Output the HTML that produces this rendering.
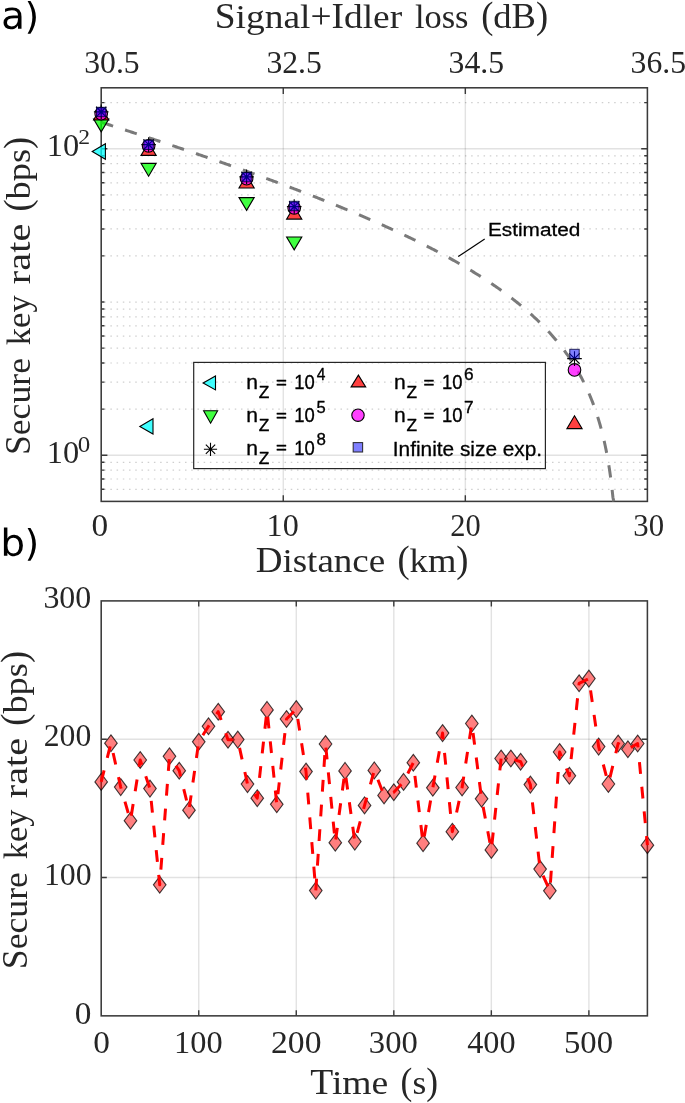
<!DOCTYPE html>
<html><head><meta charset="utf-8"><style>html,body{margin:0;padding:0;background:#fff;overflow:hidden}svg{display:block}</style></head>
<body>
<svg width="685" height="1103" viewBox="0 0 685 1103">
<rect width="685" height="1103" fill="#fff"/>
<line x1="104.15" y1="489.28" x2="646.4" y2="489.28" stroke="#cfcfcf" stroke-width="1.2" stroke-dasharray="1.5 4.72"/>
<line x1="104.15" y1="479.02" x2="646.4" y2="479.02" stroke="#cfcfcf" stroke-width="1.2" stroke-dasharray="1.5 4.72"/>
<line x1="104.15" y1="470.13" x2="646.4" y2="470.13" stroke="#cfcfcf" stroke-width="1.2" stroke-dasharray="1.5 4.72"/>
<line x1="104.15" y1="462.29" x2="646.4" y2="462.29" stroke="#cfcfcf" stroke-width="1.2" stroke-dasharray="1.5 4.72"/>
<line x1="104.15" y1="409.15" x2="646.4" y2="409.15" stroke="#cfcfcf" stroke-width="1.2" stroke-dasharray="1.5 4.72"/>
<line x1="104.15" y1="382.17" x2="646.4" y2="382.17" stroke="#cfcfcf" stroke-width="1.2" stroke-dasharray="1.5 4.72"/>
<line x1="104.15" y1="363.02" x2="646.4" y2="363.02" stroke="#cfcfcf" stroke-width="1.2" stroke-dasharray="1.5 4.72"/>
<line x1="104.15" y1="348.17" x2="646.4" y2="348.17" stroke="#cfcfcf" stroke-width="1.2" stroke-dasharray="1.5 4.72"/>
<line x1="104.15" y1="336.04" x2="646.4" y2="336.04" stroke="#cfcfcf" stroke-width="1.2" stroke-dasharray="1.5 4.72"/>
<line x1="104.15" y1="325.78" x2="646.4" y2="325.78" stroke="#cfcfcf" stroke-width="1.2" stroke-dasharray="1.5 4.72"/>
<line x1="104.15" y1="316.89" x2="646.4" y2="316.89" stroke="#cfcfcf" stroke-width="1.2" stroke-dasharray="1.5 4.72"/>
<line x1="104.15" y1="309.05" x2="646.4" y2="309.05" stroke="#cfcfcf" stroke-width="1.2" stroke-dasharray="1.5 4.72"/>
<line x1="104.15" y1="302.04" x2="646.4" y2="302.04" stroke="#cfcfcf" stroke-width="1.2" stroke-dasharray="1.5 4.72"/>
<line x1="104.15" y1="255.91" x2="646.4" y2="255.91" stroke="#cfcfcf" stroke-width="1.2" stroke-dasharray="1.5 4.72"/>
<line x1="104.15" y1="228.93" x2="646.4" y2="228.93" stroke="#cfcfcf" stroke-width="1.2" stroke-dasharray="1.5 4.72"/>
<line x1="104.15" y1="209.78" x2="646.4" y2="209.78" stroke="#cfcfcf" stroke-width="1.2" stroke-dasharray="1.5 4.72"/>
<line x1="104.15" y1="194.93" x2="646.4" y2="194.93" stroke="#cfcfcf" stroke-width="1.2" stroke-dasharray="1.5 4.72"/>
<line x1="104.15" y1="182.80" x2="646.4" y2="182.80" stroke="#cfcfcf" stroke-width="1.2" stroke-dasharray="1.5 4.72"/>
<line x1="104.15" y1="172.54" x2="646.4" y2="172.54" stroke="#cfcfcf" stroke-width="1.2" stroke-dasharray="1.5 4.72"/>
<line x1="104.15" y1="163.65" x2="646.4" y2="163.65" stroke="#cfcfcf" stroke-width="1.2" stroke-dasharray="1.5 4.72"/>
<line x1="104.15" y1="155.81" x2="646.4" y2="155.81" stroke="#cfcfcf" stroke-width="1.2" stroke-dasharray="1.5 4.72"/>
<line x1="104.15" y1="102.67" x2="646.4" y2="102.67" stroke="#cfcfcf" stroke-width="1.2" stroke-dasharray="1.5 4.72"/>
<line x1="101.2" y1="455.28" x2="647.4" y2="455.28" stroke="rgba(38,38,38,0.135)" stroke-width="1.4"/>
<line x1="101.2" y1="148.80" x2="647.4" y2="148.80" stroke="rgba(38,38,38,0.135)" stroke-width="1.4"/>
<line x1="283.27" y1="87.8" x2="283.27" y2="501.4" stroke="rgba(38,38,38,0.135)" stroke-width="1.4"/>
<line x1="465.33" y1="87.8" x2="465.33" y2="501.4" stroke="rgba(38,38,38,0.135)" stroke-width="1.4"/>
<rect x="101.20" y="87.80" width="546.20" height="413.60" fill="none" stroke="#3a3a3a" stroke-width="1.55"/>
<path d="M283.27,501.40 v-6.2 M283.27,87.80 v6.2 M465.33,501.40 v-6.2 M465.33,87.80 v6.2 M101.20,455.28 h6.2 M647.40,455.28 h-6.2 M101.20,148.80 h6.2 M647.40,148.80 h-6.2 M101.20,489.28 h3.2 M647.40,489.28 h-3.2 M101.20,479.02 h3.2 M647.40,479.02 h-3.2 M101.20,470.13 h3.2 M647.40,470.13 h-3.2 M101.20,462.29 h3.2 M647.40,462.29 h-3.2 M101.20,409.15 h3.2 M647.40,409.15 h-3.2 M101.20,382.17 h3.2 M647.40,382.17 h-3.2 M101.20,363.02 h3.2 M647.40,363.02 h-3.2 M101.20,348.17 h3.2 M647.40,348.17 h-3.2 M101.20,336.04 h3.2 M647.40,336.04 h-3.2 M101.20,325.78 h3.2 M647.40,325.78 h-3.2 M101.20,316.89 h3.2 M647.40,316.89 h-3.2 M101.20,309.05 h3.2 M647.40,309.05 h-3.2 M101.20,302.04 h3.2 M647.40,302.04 h-3.2 M101.20,255.91 h3.2 M647.40,255.91 h-3.2 M101.20,228.93 h3.2 M647.40,228.93 h-3.2 M101.20,209.78 h3.2 M647.40,209.78 h-3.2 M101.20,194.93 h3.2 M647.40,194.93 h-3.2 M101.20,182.80 h3.2 M647.40,182.80 h-3.2 M101.20,172.54 h3.2 M647.40,172.54 h-3.2 M101.20,163.65 h3.2 M647.40,163.65 h-3.2 M101.20,155.81 h3.2 M647.40,155.81 h-3.2 M101.20,102.67 h3.2 M647.40,102.67 h-3.2" stroke="#3a3a3a" stroke-width="1.4" fill="none"/>
<path d="M101.20,122.26 L102.06,122.53 L102.91,122.81 L103.77,123.09 L104.63,123.36 L105.49,123.64 L106.34,123.91 L107.20,124.19 L108.06,124.46 L108.91,124.74 L109.77,125.02 L110.63,125.29 L111.49,125.57 L112.34,125.85 L113.20,126.12 L114.06,126.40 L114.91,126.68 L115.77,126.96 L116.63,127.23 L117.49,127.51 L118.34,127.79 L119.20,128.07 L120.06,128.34 L120.91,128.62 L121.77,128.90 L122.63,129.18 L123.49,129.46 L124.34,129.74 L125.20,130.01 L126.06,130.29 L126.91,130.57 L127.77,130.85 L128.63,131.13 L129.49,131.41 L130.34,131.69 L131.20,131.97 L132.06,132.25 L132.91,132.53 L133.77,132.81 L134.63,133.09 L135.49,133.37 L136.34,133.65 L137.20,133.93 L138.06,134.21 L138.91,134.49 L139.77,134.77 L140.63,135.06 L141.49,135.34 L142.34,135.62 L143.20,135.90 L144.06,136.18 L144.91,136.46 L145.77,136.75 L146.63,137.03 L147.49,137.31 L148.34,137.59 L149.20,137.88 L150.06,138.16 L150.91,138.44 L151.77,138.73 L152.63,139.01 L153.49,139.29 L154.34,139.58 L155.20,139.86 L156.06,140.15 L156.91,140.43 L157.77,140.71 L158.63,141.00 L159.49,141.28 L160.34,141.57 L161.20,141.85 L162.06,142.14 L162.91,142.43 L163.77,142.71 L164.63,143.00 L165.49,143.28 L166.34,143.57 L167.20,143.86 L168.06,144.14 L168.91,144.43 L169.77,144.72 L170.63,145.00 L171.49,145.29 L172.34,145.58 L173.20,145.86 L174.06,146.15 L174.91,146.44 L175.77,146.73 L176.63,147.02 L177.49,147.31 L178.34,147.59 L179.20,147.88 L180.06,148.17 L180.91,148.46 L181.77,148.75 L182.63,149.04 L183.49,149.33 L184.34,149.62 L185.20,149.91 L186.06,150.20 L186.91,150.49 L187.77,150.78 L188.63,151.07 L189.49,151.37 L190.34,151.66 L191.20,151.95 L192.06,152.24 L192.91,152.53 L193.77,152.82 L194.63,153.12 L195.49,153.41 L196.34,153.70 L197.20,154.00 L198.06,154.29 L198.91,154.58 L199.77,154.88 L200.63,155.17 L201.49,155.46 L202.34,155.76 L203.20,156.05 L204.06,156.35 L204.91,156.64 L205.77,156.94 L206.63,157.23 L207.49,157.53 L208.34,157.82 L209.20,158.12 L210.06,158.42 L210.91,158.71 L211.77,159.01 L212.63,159.31 L213.49,159.60 L214.34,159.90 L215.20,160.20 L216.06,160.50 L216.91,160.80 L217.77,161.09 L218.63,161.39 L219.49,161.69 L220.34,161.99 L221.20,162.29 L222.06,162.59 L222.91,162.89 L223.77,163.19 L224.63,163.49 L225.49,163.79 L226.34,164.09 L227.20,164.39 L228.06,164.69 L228.91,165.00 L229.77,165.30 L230.63,165.60 L231.49,165.90 L232.34,166.20 L233.20,166.51 L234.06,166.81 L234.91,167.11 L235.77,167.42 L236.63,167.72 L237.49,168.03 L238.34,168.33 L239.20,168.64 L240.06,168.94 L240.91,169.25 L241.77,169.55 L242.63,169.86 L243.49,170.16 L244.34,170.47 L245.20,170.78 L246.06,171.08 L246.91,171.39 L247.77,171.70 L248.63,172.01 L249.49,172.31 L250.34,172.62 L251.20,172.93 L252.06,173.24 L252.91,173.55 L253.77,173.86 L254.63,174.17 L255.49,174.48 L256.34,174.79 L257.20,175.10 L258.06,175.41 L258.91,175.72 L259.77,176.03 L260.63,176.35 L261.49,176.66 L262.34,176.97 L263.20,177.28 L264.06,177.60 L264.91,177.91 L265.77,178.22 L266.63,178.54 L267.49,178.85 L268.34,179.17 L269.20,179.48 L270.06,179.80 L270.91,180.11 L271.77,180.43 L272.63,180.75 L273.49,181.06 L274.34,181.38 L275.20,181.70 L276.06,182.02 L276.91,182.34 L277.77,182.65 L278.63,182.97 L279.49,183.29 L280.34,183.61 L281.20,183.93 L282.06,184.25 L282.91,184.57 L283.77,184.89 L284.63,185.22 L285.49,185.54 L286.34,185.86 L287.20,186.18 L288.06,186.50 L288.91,186.83 L289.77,187.15 L290.63,187.48 L291.49,187.80 L292.34,188.12 L293.20,188.45 L294.06,188.78 L294.91,189.10 L295.77,189.43 L296.63,189.75 L297.49,190.08 L298.34,190.41 L299.20,190.74 L300.06,191.07 L300.91,191.39 L301.77,191.72 L302.63,192.05 L303.49,192.38 L304.34,192.71 L305.20,193.05 L306.06,193.38 L306.91,193.71 L307.77,194.04 L308.63,194.37 L309.49,194.71 L310.34,195.04 L311.20,195.37 L312.06,195.71 L312.91,196.04 L313.77,196.38 L314.63,196.71 L315.49,197.05 L316.34,197.39 L317.20,197.72 L318.06,198.06 L318.91,198.40 L319.77,198.74 L320.63,199.08 L321.49,199.42 L322.34,199.76 L323.20,200.10 L324.06,200.44 L324.91,200.78 L325.77,201.12 L326.63,201.46 L327.49,201.81 L328.34,202.15 L329.20,202.49 L330.06,202.84 L330.91,203.18 L331.77,203.53 L332.63,203.87 L333.49,204.22 L334.34,204.57 L335.20,204.91 L336.06,205.26 L336.91,205.61 L337.77,205.96 L338.63,206.31 L339.49,206.66 L340.34,207.01 L341.20,207.36 L342.06,207.71 L342.91,208.07 L343.77,208.42 L344.63,208.77 L345.49,209.13 L346.34,209.48 L347.20,209.84 L348.06,210.19 L348.91,210.55 L349.77,210.91 L350.63,211.27 L351.49,211.62 L352.34,211.98 L353.20,212.34 L354.06,212.70 L354.91,213.06 L355.77,213.42 L356.63,213.79 L357.49,214.15 L358.34,214.51 L359.20,214.88 L360.06,215.24 L360.91,215.61 L361.77,215.97 L362.63,216.34 L363.49,216.71 L364.34,217.07 L365.20,217.44 L366.06,217.81 L366.91,218.18 L367.77,218.55 L368.63,218.92 L369.49,219.30 L370.34,219.67 L371.20,220.04 L372.06,220.42 L372.91,220.79 L373.77,221.17 L374.63,221.54 L375.49,221.92 L376.34,222.30 L377.20,222.68 L378.06,223.06 L378.91,223.44 L379.77,223.82 L380.63,224.20 L381.49,224.58 L382.34,224.97 L383.20,225.35 L384.06,225.73 L384.91,226.12 L385.77,226.51 L386.63,226.89 L387.49,227.28 L388.34,227.67 L389.20,228.06 L390.06,228.45 L390.91,228.84 L391.77,229.24 L392.63,229.63 L393.49,230.02 L394.34,230.42 L395.20,230.81 L396.06,231.21 L396.91,231.61 L397.77,232.01 L398.63,232.41 L399.49,232.81 L400.34,233.21 L401.20,233.61 L402.06,234.01 L402.91,234.42 L403.77,234.82 L404.63,235.23 L405.49,235.64 L406.34,236.05 L407.20,236.46 L408.06,236.87 L408.91,237.28 L409.77,237.69 L410.63,238.10 L411.49,238.52 L412.34,238.93 L413.20,239.35 L414.06,239.77 L414.91,240.18 L415.77,240.60 L416.63,241.03 L417.49,241.45 L418.34,241.87 L419.20,242.29 L420.06,242.72 L420.91,243.15 L421.77,243.57 L422.63,244.00 L423.49,244.43 L424.34,244.86 L425.20,245.30 L426.06,245.73 L426.91,246.16 L427.77,246.60 L428.63,247.04 L429.49,247.48 L430.34,247.92 L431.20,248.36 L432.06,248.80 L432.91,249.24 L433.77,249.69 L434.63,250.14 L435.49,250.58 L436.34,251.03 L437.20,251.48 L438.06,251.94 L438.91,252.39 L439.77,252.84 L440.63,253.30 L441.49,253.76 L442.34,254.22 L443.20,254.68 L444.06,255.14 L444.91,255.60 L445.77,256.07 L446.63,256.54 L447.49,257.00 L448.34,257.47 L449.20,257.94 L450.06,258.42 L450.91,258.89 L451.77,259.37 L452.63,259.85 L453.49,260.33 L454.34,260.81 L455.20,261.29 L456.06,261.78 L456.91,262.26 L457.77,262.75 L458.63,263.24 L459.49,263.73 L460.34,264.23 L461.20,264.72 L462.06,265.22 L462.91,265.72 L463.77,266.22 L464.63,266.72 L465.49,267.23 L466.34,267.74 L467.20,268.24 L468.06,268.76 L468.91,269.27 L469.77,269.78 L470.63,270.30 L471.49,270.82 L472.34,271.34 L473.20,271.87 L474.06,272.39 L474.91,272.92 L475.77,273.45 L476.63,273.99 L477.49,274.52 L478.34,275.06 L479.20,275.60 L480.06,276.14 L480.91,276.68 L481.77,277.23 L482.63,277.78 L483.49,278.33 L484.34,278.89 L485.20,279.45 L486.06,280.01 L486.91,280.57 L487.77,281.13 L488.63,281.70 L489.49,282.27 L490.34,282.85 L491.20,283.42 L492.06,284.00 L492.91,284.58 L493.77,285.17 L494.63,285.76 L495.49,286.35 L496.34,286.94 L497.20,287.54 L498.06,288.14 L498.91,288.75 L499.77,289.35 L500.63,289.96 L501.49,290.58 L502.34,291.20 L503.20,291.82 L504.06,292.44 L504.91,293.07 L505.77,293.70 L506.63,294.34 L507.49,294.97 L508.34,295.62 L509.20,296.26 L510.06,296.91 L510.91,297.57 L511.77,298.23 L512.63,298.89 L513.49,299.56 L514.34,300.23 L515.20,300.90 L516.06,301.58 L516.91,302.27 L517.77,302.96 L518.63,303.65 L519.49,304.35 L520.34,305.05 L521.20,305.76 L522.06,306.47 L522.91,307.19 L523.77,307.92 L524.63,308.64 L525.49,309.38 L526.34,310.12 L527.20,310.86 L528.06,311.61 L528.91,312.37 L529.77,313.13 L530.63,313.90 L531.49,314.67 L532.34,315.45 L533.20,316.24 L534.06,317.03 L534.91,317.83 L535.77,318.64 L536.63,319.45 L537.49,320.27 L538.34,321.10 L539.20,321.93 L540.06,322.77 L540.91,323.62 L541.77,324.48 L542.63,325.35 L543.49,326.22 L544.34,327.10 L545.20,327.99 L546.06,328.89 L546.91,329.80 L547.77,330.72 L548.63,331.65 L549.49,332.58 L550.34,333.53 L551.20,334.48 L552.06,335.45 L552.91,336.43 L553.77,337.42 L554.63,338.41 L555.49,339.43 L556.34,340.45 L557.20,341.48 L558.06,342.53 L558.91,343.59 L559.77,344.66 L560.63,345.75 L561.49,346.85 L562.34,347.96 L563.20,349.09 L564.06,350.24 L564.91,351.40 L565.77,352.57 L566.63,353.77 L567.49,354.98 L568.34,356.21 L569.20,357.45 L570.06,358.72 L570.91,360.01 L571.77,361.31 L572.63,362.64 L573.49,363.99 L574.34,365.36 L575.20,366.76 L576.06,368.18 L576.91,369.62 L577.77,371.10 L578.63,372.60 L579.49,374.13 L580.34,375.68 L581.20,377.28 L582.06,378.90 L582.91,380.56 L583.77,382.25 L584.63,383.98 L585.49,385.75 L586.34,387.57 L587.20,389.43 L588.06,391.33 L588.91,393.28 L589.77,395.28 L590.63,397.34 L591.49,399.46 L592.34,401.63 L593.20,403.88 L594.06,406.19 L594.91,408.57 L595.77,411.04 L596.63,413.59 L597.49,416.23 L598.34,418.97 L599.20,421.82 L600.06,424.78 L600.91,427.87 L601.77,431.10 L602.63,434.48 L603.49,438.03 L604.34,441.76 L605.20,445.70 L606.06,449.88 L606.91,454.31 L607.77,459.04 L608.63,464.12 L609.49,469.60 L610.34,475.54 L611.20,482.04 L612.06,489.22 L612.91,497.23 L613.77,501.40" fill="none" stroke="#7a7a7a" stroke-width="3" stroke-dasharray="12.3 12.586" stroke-dashoffset="-0.2"/>
<polygon points="105.40,143.80 105.40,159.20 92.20,151.50" fill="rgba(0,255,255,0.75)" stroke="#000" stroke-width="1.1"/>
<polygon points="153.00,418.70 153.00,434.10 139.80,426.40" fill="rgba(0,255,255,0.75)" stroke="#000" stroke-width="1.1"/>
<polygon points="93.60,119.10 108.80,119.10 101.20,131.90" fill="rgba(0,255,0,0.75)" stroke="#000" stroke-width="1.1"/>
<polygon points="141.00,163.40 156.20,163.40 148.60,176.20" fill="rgba(0,255,0,0.75)" stroke="#000" stroke-width="1.1"/>
<polygon points="239.00,197.60 254.20,197.60 246.60,210.40" fill="rgba(0,255,0,0.75)" stroke="#000" stroke-width="1.1"/>
<polygon points="286.60,237.00 301.80,237.00 294.20,249.80" fill="rgba(0,255,0,0.75)" stroke="#000" stroke-width="1.1"/>
<polygon points="93.60,120.00 108.80,120.00 101.20,107.20" fill="rgba(255,0,0,0.75)" stroke="#000" stroke-width="1.1" stroke-linejoin="miter"/>
<polygon points="141.00,155.40 156.20,155.40 148.60,142.60" fill="rgba(255,0,0,0.75)" stroke="#000" stroke-width="1.1" stroke-linejoin="miter"/>
<polygon points="239.00,188.00 254.20,188.00 246.60,175.20" fill="rgba(255,0,0,0.75)" stroke="#000" stroke-width="1.1" stroke-linejoin="miter"/>
<polygon points="286.60,219.10 301.80,219.10 294.20,206.30" fill="rgba(255,0,0,0.75)" stroke="#000" stroke-width="1.1" stroke-linejoin="miter"/>
<polygon points="566.90,428.60 582.10,428.60 574.50,415.80" fill="rgba(255,0,0,0.75)" stroke="#000" stroke-width="1.1" stroke-linejoin="miter"/>
<circle cx="101.20" cy="113.70" r="6.3" fill="rgba(255,0,255,0.75)" stroke="#000" stroke-width="1.1"/>
<circle cx="148.60" cy="145.90" r="6.3" fill="rgba(255,0,255,0.75)" stroke="#000" stroke-width="1.1"/>
<circle cx="246.60" cy="178.70" r="6.3" fill="rgba(255,0,255,0.75)" stroke="#000" stroke-width="1.1"/>
<circle cx="294.20" cy="208.00" r="6.3" fill="rgba(255,0,255,0.75)" stroke="#000" stroke-width="1.1"/>
<circle cx="574.50" cy="369.90" r="6.3" fill="rgba(255,0,255,0.75)" stroke="#000" stroke-width="1.1"/>
<path d="M93.90,111.90 L108.50,111.90 M96.04,106.74 L106.36,117.06 M101.20,104.60 L101.20,119.20 M106.36,106.74 L96.04,117.06" stroke="#000" stroke-width="1.1" fill="none"/>
<path d="M141.30,144.60 L155.90,144.60 M143.44,139.44 L153.76,149.76 M148.60,137.30 L148.60,151.90 M153.76,139.44 L143.44,149.76" stroke="#000" stroke-width="1.1" fill="none"/>
<path d="M239.30,176.90 L253.90,176.90 M241.44,171.74 L251.76,182.06 M246.60,169.60 L246.60,184.20 M251.76,171.74 L241.44,182.06" stroke="#000" stroke-width="1.1" fill="none"/>
<path d="M286.90,206.60 L301.50,206.60 M289.04,201.44 L299.36,211.76 M294.20,199.30 L294.20,213.90 M299.36,201.44 L289.04,211.76" stroke="#000" stroke-width="1.1" fill="none"/>
<path d="M567.20,358.60 L581.80,358.60 M569.34,353.44 L579.66,363.76 M574.50,351.30 L574.50,365.90 M579.66,353.44 L569.34,363.76" stroke="#000" stroke-width="1.1" fill="none"/>
<rect x="96.50" y="107.30" width="9.4" height="9.4" fill="rgba(0,0,255,0.5)" stroke="rgba(0,0,50,0.8)" stroke-width="1"/>
<rect x="143.90" y="140.10" width="9.4" height="9.4" fill="rgba(0,0,255,0.5)" stroke="rgba(0,0,50,0.8)" stroke-width="1"/>
<rect x="241.90" y="172.40" width="9.4" height="9.4" fill="rgba(0,0,255,0.5)" stroke="rgba(0,0,50,0.8)" stroke-width="1"/>
<rect x="289.50" y="201.30" width="9.4" height="9.4" fill="rgba(0,0,255,0.5)" stroke="rgba(0,0,50,0.8)" stroke-width="1"/>
<rect x="569.80" y="349.30" width="9.4" height="9.4" fill="rgba(0,0,255,0.5)" stroke="rgba(0,0,50,0.8)" stroke-width="1"/>
<rect x="193.7" y="362.4" width="351.7" height="106.2" fill="none" stroke="#262626" stroke-width="1.2"/>
<polygon points="215.50,375.90 215.50,389.90 203.10,382.90" fill="rgba(0,255,255,0.75)" stroke="#000" stroke-width="1.1"/>
<polygon points="203.60,410.80 217.60,410.80 210.60,423.20" fill="rgba(0,255,0,0.75)" stroke="#000" stroke-width="1.1"/>
<path d="M203.90,449.30 L217.10,449.30 M205.83,444.63 L215.17,453.97 M210.50,442.70 L210.50,455.90 M215.17,444.63 L205.83,453.97" stroke="#000" stroke-width="1.1" fill="none"/>
<polygon points="351.10,386.90 365.70,386.90 358.40,375.10" fill="rgba(255,0,0,0.75)" stroke="#000" stroke-width="1.1" stroke-linejoin="miter"/>
<circle cx="358.00" cy="415.20" r="6.2" fill="rgba(255,0,255,0.75)" stroke="#000" stroke-width="1.1"/>
<rect x="353.2" y="442.6" width="9.4" height="9.4" fill="rgba(0,0,255,0.5)" stroke="#30303a" stroke-width="1.1"/>
<line x1="458.2" y1="256.6" x2="484.7" y2="239.0" stroke="#000" stroke-width="1.2"/>
<line x1="101.2" y1="877.53" x2="647.4" y2="877.53" stroke="rgba(38,38,38,0.135)" stroke-width="1.4"/>
<line x1="101.2" y1="739.22" x2="647.4" y2="739.22" stroke="rgba(38,38,38,0.135)" stroke-width="1.4"/>
<line x1="198.74" y1="600.9" x2="198.74" y2="1015.9" stroke="rgba(38,38,38,0.135)" stroke-width="1.4"/>
<line x1="296.27" y1="600.9" x2="296.27" y2="1015.9" stroke="rgba(38,38,38,0.135)" stroke-width="1.4"/>
<line x1="393.81" y1="600.9" x2="393.81" y2="1015.9" stroke="rgba(38,38,38,0.135)" stroke-width="1.4"/>
<line x1="491.34" y1="600.9" x2="491.34" y2="1015.9" stroke="rgba(38,38,38,0.135)" stroke-width="1.4"/>
<line x1="588.88" y1="600.9" x2="588.88" y2="1015.9" stroke="rgba(38,38,38,0.135)" stroke-width="1.4"/>
<rect x="101.20" y="600.90" width="546.20" height="414.95" fill="none" stroke="#3a3a3a" stroke-width="1.55"/>
<path d="M198.74,1015.85 v-5.6 M198.74,600.90 v5.6 M296.27,1015.85 v-5.6 M296.27,600.90 v5.6 M393.81,1015.85 v-5.6 M393.81,600.90 v5.6 M491.34,1015.85 v-5.6 M491.34,600.90 v5.6 M588.88,1015.85 v-5.6 M588.88,600.90 v5.6 M101.20,877.53 h5.6 M647.40,877.53 h-5.6 M101.20,739.22 h5.6 M647.40,739.22 h-5.6" stroke="#3a3a3a" stroke-width="1.4" fill="none"/>
<polygon points="101.20,773.50 107.50,781.90 101.20,790.30 94.90,781.90" fill="rgba(255,0,0,0.5)" stroke="rgba(0,0,0,0.75)" stroke-width="1.1"/>
<polygon points="110.95,734.80 117.25,743.20 110.95,751.60 104.65,743.20" fill="rgba(255,0,0,0.5)" stroke="rgba(0,0,0,0.75)" stroke-width="1.1"/>
<polygon points="120.71,778.70 127.01,787.10 120.71,795.50 114.41,787.10" fill="rgba(255,0,0,0.5)" stroke="rgba(0,0,0,0.75)" stroke-width="1.1"/>
<polygon points="130.46,812.30 136.76,820.70 130.46,829.10 124.16,820.70" fill="rgba(255,0,0,0.5)" stroke="rgba(0,0,0,0.75)" stroke-width="1.1"/>
<polygon points="140.21,751.60 146.51,760.00 140.21,768.40 133.91,760.00" fill="rgba(255,0,0,0.5)" stroke="rgba(0,0,0,0.75)" stroke-width="1.1"/>
<polygon points="149.97,780.20 156.27,788.60 149.97,797.00 143.67,788.60" fill="rgba(255,0,0,0.5)" stroke="rgba(0,0,0,0.75)" stroke-width="1.1"/>
<polygon points="159.72,876.40 166.02,884.80 159.72,893.20 153.42,884.80" fill="rgba(255,0,0,0.5)" stroke="rgba(0,0,0,0.75)" stroke-width="1.1"/>
<polygon points="169.47,747.90 175.78,756.30 169.47,764.70 163.17,756.30" fill="rgba(255,0,0,0.5)" stroke="rgba(0,0,0,0.75)" stroke-width="1.1"/>
<polygon points="179.23,762.30 185.53,770.70 179.23,779.10 172.93,770.70" fill="rgba(255,0,0,0.5)" stroke="rgba(0,0,0,0.75)" stroke-width="1.1"/>
<polygon points="188.98,801.80 195.28,810.20 188.98,818.60 182.68,810.20" fill="rgba(255,0,0,0.5)" stroke="rgba(0,0,0,0.75)" stroke-width="1.1"/>
<polygon points="198.74,733.40 205.04,741.80 198.74,750.20 192.44,741.80" fill="rgba(255,0,0,0.5)" stroke="rgba(0,0,0,0.75)" stroke-width="1.1"/>
<polygon points="208.49,717.90 214.79,726.30 208.49,734.70 202.19,726.30" fill="rgba(255,0,0,0.5)" stroke="rgba(0,0,0,0.75)" stroke-width="1.1"/>
<polygon points="218.24,703.30 224.54,711.70 218.24,720.10 211.94,711.70" fill="rgba(255,0,0,0.5)" stroke="rgba(0,0,0,0.75)" stroke-width="1.1"/>
<polygon points="228.00,731.40 234.30,739.80 228.00,748.20 221.70,739.80" fill="rgba(255,0,0,0.5)" stroke="rgba(0,0,0,0.75)" stroke-width="1.1"/>
<polygon points="237.75,731.20 244.05,739.60 237.75,748.00 231.45,739.60" fill="rgba(255,0,0,0.5)" stroke="rgba(0,0,0,0.75)" stroke-width="1.1"/>
<polygon points="247.50,775.70 253.80,784.10 247.50,792.50 241.20,784.10" fill="rgba(255,0,0,0.5)" stroke="rgba(0,0,0,0.75)" stroke-width="1.1"/>
<polygon points="257.26,789.80 263.56,798.20 257.26,806.60 250.96,798.20" fill="rgba(255,0,0,0.5)" stroke="rgba(0,0,0,0.75)" stroke-width="1.1"/>
<polygon points="267.01,701.50 273.31,709.90 267.01,718.30 260.71,709.90" fill="rgba(255,0,0,0.5)" stroke="rgba(0,0,0,0.75)" stroke-width="1.1"/>
<polygon points="276.76,795.90 283.06,804.30 276.76,812.70 270.46,804.30" fill="rgba(255,0,0,0.5)" stroke="rgba(0,0,0,0.75)" stroke-width="1.1"/>
<polygon points="286.52,710.60 292.82,719.00 286.52,727.40 280.22,719.00" fill="rgba(255,0,0,0.5)" stroke="rgba(0,0,0,0.75)" stroke-width="1.1"/>
<polygon points="296.27,700.70 302.57,709.10 296.27,717.50 289.97,709.10" fill="rgba(255,0,0,0.5)" stroke="rgba(0,0,0,0.75)" stroke-width="1.1"/>
<polygon points="306.02,763.20 312.32,771.60 306.02,780.00 299.72,771.60" fill="rgba(255,0,0,0.5)" stroke="rgba(0,0,0,0.75)" stroke-width="1.1"/>
<polygon points="315.78,882.20 322.08,890.60 315.78,899.00 309.48,890.60" fill="rgba(255,0,0,0.5)" stroke="rgba(0,0,0,0.75)" stroke-width="1.1"/>
<polygon points="325.53,735.60 331.83,744.00 325.53,752.40 319.23,744.00" fill="rgba(255,0,0,0.5)" stroke="rgba(0,0,0,0.75)" stroke-width="1.1"/>
<polygon points="335.29,834.30 341.59,842.70 335.29,851.10 328.99,842.70" fill="rgba(255,0,0,0.5)" stroke="rgba(0,0,0,0.75)" stroke-width="1.1"/>
<polygon points="345.04,762.50 351.34,770.90 345.04,779.30 338.74,770.90" fill="rgba(255,0,0,0.5)" stroke="rgba(0,0,0,0.75)" stroke-width="1.1"/>
<polygon points="354.79,833.20 361.09,841.60 354.79,850.00 348.49,841.60" fill="rgba(255,0,0,0.5)" stroke="rgba(0,0,0,0.75)" stroke-width="1.1"/>
<polygon points="364.55,797.00 370.85,805.40 364.55,813.80 358.25,805.40" fill="rgba(255,0,0,0.5)" stroke="rgba(0,0,0,0.75)" stroke-width="1.1"/>
<polygon points="374.30,762.00 380.60,770.40 374.30,778.80 368.00,770.40" fill="rgba(255,0,0,0.5)" stroke="rgba(0,0,0,0.75)" stroke-width="1.1"/>
<polygon points="384.05,787.00 390.35,795.40 384.05,803.80 377.75,795.40" fill="rgba(255,0,0,0.5)" stroke="rgba(0,0,0,0.75)" stroke-width="1.1"/>
<polygon points="393.81,783.80 400.11,792.20 393.81,800.60 387.51,792.20" fill="rgba(255,0,0,0.5)" stroke="rgba(0,0,0,0.75)" stroke-width="1.1"/>
<polygon points="403.56,773.50 409.86,781.90 403.56,790.30 397.26,781.90" fill="rgba(255,0,0,0.5)" stroke="rgba(0,0,0,0.75)" stroke-width="1.1"/>
<polygon points="413.31,754.30 419.61,762.70 413.31,771.10 407.01,762.70" fill="rgba(255,0,0,0.5)" stroke="rgba(0,0,0,0.75)" stroke-width="1.1"/>
<polygon points="423.07,834.80 429.37,843.20 423.07,851.60 416.77,843.20" fill="rgba(255,0,0,0.5)" stroke="rgba(0,0,0,0.75)" stroke-width="1.1"/>
<polygon points="432.82,779.40 439.12,787.80 432.82,796.20 426.52,787.80" fill="rgba(255,0,0,0.5)" stroke="rgba(0,0,0,0.75)" stroke-width="1.1"/>
<polygon points="442.57,724.70 448.87,733.10 442.57,741.50 436.27,733.10" fill="rgba(255,0,0,0.5)" stroke="rgba(0,0,0,0.75)" stroke-width="1.1"/>
<polygon points="452.33,823.30 458.63,831.70 452.33,840.10 446.03,831.70" fill="rgba(255,0,0,0.5)" stroke="rgba(0,0,0,0.75)" stroke-width="1.1"/>
<polygon points="462.08,779.10 468.38,787.50 462.08,795.90 455.78,787.50" fill="rgba(255,0,0,0.5)" stroke="rgba(0,0,0,0.75)" stroke-width="1.1"/>
<polygon points="471.84,715.10 478.14,723.50 471.84,731.90 465.54,723.50" fill="rgba(255,0,0,0.5)" stroke="rgba(0,0,0,0.75)" stroke-width="1.1"/>
<polygon points="481.59,790.40 487.89,798.80 481.59,807.20 475.29,798.80" fill="rgba(255,0,0,0.5)" stroke="rgba(0,0,0,0.75)" stroke-width="1.1"/>
<polygon points="491.34,841.50 497.64,849.90 491.34,858.30 485.04,849.90" fill="rgba(255,0,0,0.5)" stroke="rgba(0,0,0,0.75)" stroke-width="1.1"/>
<polygon points="501.10,750.10 507.40,758.50 501.10,766.90 494.80,758.50" fill="rgba(255,0,0,0.5)" stroke="rgba(0,0,0,0.75)" stroke-width="1.1"/>
<polygon points="510.85,750.10 517.15,758.50 510.85,766.90 504.55,758.50" fill="rgba(255,0,0,0.5)" stroke="rgba(0,0,0,0.75)" stroke-width="1.1"/>
<polygon points="520.60,753.30 526.90,761.70 520.60,770.10 514.30,761.70" fill="rgba(255,0,0,0.5)" stroke="rgba(0,0,0,0.75)" stroke-width="1.1"/>
<polygon points="530.36,776.20 536.66,784.60 530.36,793.00 524.06,784.60" fill="rgba(255,0,0,0.5)" stroke="rgba(0,0,0,0.75)" stroke-width="1.1"/>
<polygon points="540.11,860.70 546.41,869.10 540.11,877.50 533.81,869.10" fill="rgba(255,0,0,0.5)" stroke="rgba(0,0,0,0.75)" stroke-width="1.1"/>
<polygon points="549.86,882.40 556.16,890.80 549.86,899.20 543.56,890.80" fill="rgba(255,0,0,0.5)" stroke="rgba(0,0,0,0.75)" stroke-width="1.1"/>
<polygon points="559.62,743.60 565.92,752.00 559.62,760.40 553.32,752.00" fill="rgba(255,0,0,0.5)" stroke="rgba(0,0,0,0.75)" stroke-width="1.1"/>
<polygon points="569.37,767.40 575.67,775.80 569.37,784.20 563.07,775.80" fill="rgba(255,0,0,0.5)" stroke="rgba(0,0,0,0.75)" stroke-width="1.1"/>
<polygon points="579.12,674.90 585.42,683.30 579.12,691.70 572.82,683.30" fill="rgba(255,0,0,0.5)" stroke="rgba(0,0,0,0.75)" stroke-width="1.1"/>
<polygon points="588.88,670.20 595.18,678.60 588.88,687.00 582.58,678.60" fill="rgba(255,0,0,0.5)" stroke="rgba(0,0,0,0.75)" stroke-width="1.1"/>
<polygon points="598.63,738.20 604.93,746.60 598.63,755.00 592.33,746.60" fill="rgba(255,0,0,0.5)" stroke="rgba(0,0,0,0.75)" stroke-width="1.1"/>
<polygon points="608.39,775.60 614.69,784.00 608.39,792.40 602.09,784.00" fill="rgba(255,0,0,0.5)" stroke="rgba(0,0,0,0.75)" stroke-width="1.1"/>
<polygon points="618.14,735.10 624.44,743.50 618.14,751.90 611.84,743.50" fill="rgba(255,0,0,0.5)" stroke="rgba(0,0,0,0.75)" stroke-width="1.1"/>
<polygon points="627.89,740.90 634.19,749.30 627.89,757.70 621.59,749.30" fill="rgba(255,0,0,0.5)" stroke="rgba(0,0,0,0.75)" stroke-width="1.1"/>
<polygon points="637.65,735.10 643.95,743.50 637.65,751.90 631.35,743.50" fill="rgba(255,0,0,0.5)" stroke="rgba(0,0,0,0.75)" stroke-width="1.1"/>
<polygon points="647.40,836.80 653.70,845.20 647.40,853.60 641.10,845.20" fill="rgba(255,0,0,0.5)" stroke="rgba(0,0,0,0.75)" stroke-width="1.1"/>
<path d="M101.20,781.90 L110.95,743.20 L120.71,787.10 L130.46,820.70 L140.21,760.00 L149.97,788.60 L159.72,884.80 L169.47,756.30 L179.23,770.70 L188.98,810.20 L198.74,741.80 L208.49,726.30 L218.24,711.70 L228.00,739.80 L237.75,739.60 L247.50,784.10 L257.26,798.20 L267.01,709.90 L276.76,804.30 L286.52,719.00 L296.27,709.10 L306.02,771.60 L315.78,890.60 L325.53,744.00 L335.29,842.70 L345.04,770.90 L354.79,841.60 L364.55,805.40 L374.30,770.40 L384.05,795.40 L393.81,792.20 L403.56,781.90 L413.31,762.70 L423.07,843.20 L432.82,787.80 L442.57,733.10 L452.33,831.70 L462.08,787.50 L471.84,723.50 L481.59,798.80 L491.34,849.90 L501.10,758.50 L510.85,758.50 L520.60,761.70 L530.36,784.60 L540.11,869.10 L549.86,890.80 L559.62,752.00 L569.37,775.80 L579.12,683.30 L588.88,678.60 L598.63,746.60 L608.39,784.00 L618.14,743.50 L627.89,749.30 L637.65,743.50 L647.40,845.20" fill="none" stroke="#ff0000" stroke-width="3" stroke-dasharray="11.80 12.95 11.80 13.36 11.80 12.95 11.80 13.62 11.80 13.09 11.80 12.95 11.80 12.95 11.80 12.28 11.80 13.62 11.80 12.95 11.80 12.95 11.80 12.95 11.80 13.44 11.80 12.95 11.80 12.95 11.80 12.95 11.80 12.95 11.80 14.27 11.80 13.09 11.80 13.19 11.80 12.95 11.80 12.95 11.80 12.29 11.80 13.41 11.80 13.86 11.80 13.40 11.80 12.95 11.80 12.96 11.80 13.39 11.80 12.95 11.80 12.95 11.80 13.94 11.80 12.95 11.80 12.95 11.80 12.95 11.80 12.35 11.80 12.95 11.80 12.95 11.80 12.95 11.80 13.30 11.80 12.95 11.80 12.95 11.80 13.26 11.80 12.95 11.80 12.95 11.80 12.95 11.80 12.35 11.80 12.95 11.80 12.95 11.80 12.95 11.80 12.95 11.80 12.95 11.80 14.87 11.80 12.95 11.80 12.95 11.80 12.95 11.80 12.63 11.80 12.95 11.80 12.95 11.80 14.86 11.80 12.95 11.80 12.95 11.80 12.27 11.80 12.95 11.80 13.69 11.80 12.68 11.80 14.54 11.80 12.55 11.80 13.64 11.80 12.95 11.80 12.95 11.80 13.29 11.80 12.95 11.80 13.50 11.80 12.95 11.80 12.95 11.80 13.46 11.80 12.95 11.80 12.95 11.80 12.95 11.80 12.93 11.80 12.95 11.80 13.26 11.80 12.95 11.80 13.49 11.80 12.95 11.80 12.95 11.80 13.28 11.80 12.95 11.80 12.97 11.80 12.95 11.80 12.95 11.80 12.95 11.80 13.62 11.80 12.77 11.80 12.99 11.80 12.95 11.80 12.95 11.80 13.11 11.80 13.04 11.80 12.95 11.80 12.95 11.80 12.95 11.80 12.95 11.80 12.95 11.80 13.09 11.80 12.82 11.80 12.95 11.80 12.95 11.80 12.95 11.80 12.99 11.80 12.95 11.80 12.95 11.80 14.00 11.80 15.25 11.80 12.95 11.80 12.95 11.80 14.85 11.80 12.95 11.80 12.95 11.80 12.95 11.80 50.00" stroke-linejoin="round"/>
<defs><filter id="gs" x="0" y="0" width="1" height="1"><feOffset dx="0" dy="0"/></filter></defs>
<g filter="url(#gs)">
<path transform="translate(1.160,28.760) scale(0.01903,-0.01862)" d="M702,563 Q479,563 393,512 Q307,461 307,338 Q307,240 371.5,182.5 Q436,125 547,125 Q700,125 792.5,233.5 Q885,342 885,522 L885,563 Z M1069,639 L1069,0 L885,0 L885,170 Q822,68 728,19.5 Q634,-29 498,-29 Q326,-29 224.5,67.5 Q123,164 123,326 Q123,515 249.5,611 Q376,707 627,707 L885,707 L885,725 Q885,852 801.5,921.5 Q718,991 567,991 Q471,991 380,968 Q289,945 205,899 L205,1069 Q306,1108 401,1127.5 Q496,1147 586,1147 Q829,1147 949,1021 Q1069,895 1069,639 Z" fill="#000"/>
<path transform="translate(23.640,28.683) scale(0.01808,-0.01786)" d="M219,1556 L379,1556 Q529,1320 603.5,1092 Q678,864 678,639 Q678,413 603.5,184 Q529,-45 379,-281 L219,-281 Q352,-52 417.5,177.5 Q483,407 483,639 Q483,871 417.5,1099 Q352,1327 219,1556 Z" fill="#000"/>
<path transform="translate(3.255,555.771) scale(0.01898,-0.01823)" d="M218,950 L218,1556 L34,1556 L34,0 L218,0 L218,168 Q276,68 364.5,19.5 Q453,-29 577,-29 Q780,-29 907.5,133 Q1035,295 1035,559 Q1035,823 907.5,985 Q780,1147 577,1147 Q453,1147 364.5,1098.5 Q276,1050 218,950 Z M845,559 Q845,356 761.5,240.5 Q678,125 532,125 Q386,125 302,240.5 Q218,356 218,559 Q218,762 302,877.5 Q386,993 532,993 Q678,993 761.5,877.5 Q845,762 845,559 Z" fill="#000"/>
<path transform="translate(23.640,555.683) scale(0.01808,-0.01786)" d="M219,1556 L379,1556 Q529,1320 603.5,1092 Q678,864 678,639 Q678,413 603.5,184 Q529,-45 379,-281 L219,-281 Q352,-52 417.5,177.5 Q483,407 483,639 Q483,871 417.5,1099 Q352,1327 219,1556 Z" fill="#000"/>
<text transform="translate(214.78,28.40) scale(0.3742,0.3650)" style="font-family:'Liberation Serif';font-size:100px;fill:#262626;white-space:pre" xml:space="preserve">S</text>
<text transform="translate(235.59,28.40) scale(0.3742,0.3400)" style="font-family:'Liberation Serif';font-size:100px;fill:#262626;white-space:pre" xml:space="preserve">ignal</text>
<text transform="translate(310.42,28.40) scale(0.3742,0.3650)" style="font-family:'Liberation Serif';font-size:100px;fill:#262626;white-space:pre" xml:space="preserve">+I</text>
<text transform="translate(343.99,28.40) scale(0.3742,0.3400)" style="font-family:'Liberation Serif';font-size:100px;fill:#262626;white-space:pre" xml:space="preserve">dler</text>
<text transform="translate(414.91,28.40) scale(0.3447,0.3400)" style="font-family:'Liberation Serif';font-size:100px;fill:#262626;white-space:pre" xml:space="preserve">loss</text>
<text transform="translate(481.14,28.40) scale(0.3657,0.3820)" style="font-family:'Liberation Serif';font-size:100px;fill:#262626;white-space:pre" xml:space="preserve">(</text>
<text transform="translate(493.31,28.40) scale(0.3657,0.3400)" style="font-family:'Liberation Serif';font-size:100px;fill:#262626;white-space:pre" xml:space="preserve">d</text>
<text transform="translate(511.60,28.40) scale(0.3657,0.3650)" style="font-family:'Liberation Serif';font-size:100px;fill:#262626;white-space:pre" xml:space="preserve">B</text>
<text transform="translate(535.99,28.40) scale(0.3657,0.3820)" style="font-family:'Liberation Serif';font-size:100px;fill:#262626;white-space:pre" xml:space="preserve">)</text>
<text transform="translate(84.22,73.16) scale(0.3169,0.3206)" style="font-family:'Liberation Serif';font-size:100px;fill:#262626;white-space:pre" xml:space="preserve">30.5</text>
<text transform="translate(266.42,73.47) scale(0.3169,0.3254)" style="font-family:'Liberation Serif';font-size:100px;fill:#262626;white-space:pre" xml:space="preserve">32.5</text>
<text transform="translate(448.62,73.47) scale(0.3169,0.3254)" style="font-family:'Liberation Serif';font-size:100px;fill:#262626;white-space:pre" xml:space="preserve">34.5</text>
<text transform="translate(630.62,73.16) scale(0.3169,0.3206)" style="font-family:'Liberation Serif';font-size:100px;fill:#262626;white-space:pre" xml:space="preserve">36.5</text>
<text transform="translate(46.78,156.06) scale(0.3241,0.3191)" style="font-family:'Liberation Serif';font-size:100px;fill:#262626;white-space:pre" xml:space="preserve">10</text>
<text transform="translate(78.15,144.49) scale(0.2366,0.2119)" style="font-family:'Liberation Serif';font-size:100px;fill:#262626;white-space:pre" xml:space="preserve">2</text>
<text transform="translate(46.78,462.66) scale(0.3241,0.3191)" style="font-family:'Liberation Serif';font-size:100px;fill:#262626;white-space:pre" xml:space="preserve">10</text>
<text transform="translate(77.70,451.65) scale(0.2500,0.2250)" style="font-family:'Liberation Serif';font-size:100px;fill:#262626;white-space:pre" xml:space="preserve">0</text>
<text transform="translate(91.57,536.05) scale(0.3333,0.3235)" style="font-family:'Liberation Serif';font-size:100px;fill:#262626;white-space:pre" xml:space="preserve">0</text>
<text transform="translate(266.60,536.15) scale(0.3218,0.3235)" style="font-family:'Liberation Serif';font-size:100px;fill:#262626;white-space:pre" xml:space="preserve">10</text>
<text transform="translate(450.18,536.15) scale(0.3043,0.3235)" style="font-family:'Liberation Serif';font-size:100px;fill:#262626;white-space:pre" xml:space="preserve">20</text>
<text transform="translate(633.26,536.15) scale(0.3077,0.3235)" style="font-family:'Liberation Serif';font-size:100px;fill:#262626;white-space:pre" xml:space="preserve">30</text>
<text transform="translate(255.69,571.80) scale(0.3703,0.3650)" style="font-family:'Liberation Serif';font-size:100px;fill:#262626;white-space:pre" xml:space="preserve">D</text>
<text transform="translate(282.43,571.80) scale(0.3703,0.3400)" style="font-family:'Liberation Serif';font-size:100px;fill:#262626;white-space:pre" xml:space="preserve">istance</text>
<text transform="translate(397.44,571.80) scale(0.3656,0.3820)" style="font-family:'Liberation Serif';font-size:100px;fill:#262626;white-space:pre" xml:space="preserve">(</text>
<text transform="translate(409.61,571.80) scale(0.3656,0.3400)" style="font-family:'Liberation Serif';font-size:100px;fill:#262626;white-space:pre" xml:space="preserve">km</text>
<text transform="translate(456.33,571.80) scale(0.3656,0.3820)" style="font-family:'Liberation Serif';font-size:100px;fill:#262626;white-space:pre" xml:space="preserve">)</text>
<text transform="translate(29.80,211.55) rotate(-90) scale(0.3635,0.3820)" style="font-family:'Liberation Serif';font-size:100px;fill:#262626;white-space:pre" xml:space="preserve">(</text>
<text transform="translate(29.80,199.45) rotate(-90) scale(0.3635,0.3400)" style="font-family:'Liberation Serif';font-size:100px;fill:#262626;white-space:pre" xml:space="preserve">bps</text>
<text transform="translate(29.80,148.97) rotate(-90) scale(0.3635,0.3820)" style="font-family:'Liberation Serif';font-size:100px;fill:#262626;white-space:pre" xml:space="preserve">)</text>
<text transform="translate(29.80,284.21) rotate(-90) scale(0.4041,0.3400)" style="font-family:'Liberation Serif';font-size:100px;fill:#262626;white-space:pre" xml:space="preserve">rate</text>
<text transform="translate(29.80,345.19) rotate(-90) scale(0.3451,0.3400)" style="font-family:'Liberation Serif';font-size:100px;fill:#262626;white-space:pre" xml:space="preserve">key</text>
<text transform="translate(29.80,455.10) rotate(-90) scale(0.3569,0.3650)" style="font-family:'Liberation Serif';font-size:100px;fill:#262626;white-space:pre" xml:space="preserve">S</text>
<text transform="translate(29.80,435.25) rotate(-90) scale(0.3569,0.3400)" style="font-family:'Liberation Serif';font-size:100px;fill:#262626;white-space:pre" xml:space="preserve">ecure</text>
<text transform="translate(27.00,725.65) rotate(-90) scale(0.3635,0.3820)" style="font-family:'Liberation Serif';font-size:100px;fill:#262626;white-space:pre" xml:space="preserve">(</text>
<text transform="translate(27.00,713.55) rotate(-90) scale(0.3635,0.3400)" style="font-family:'Liberation Serif';font-size:100px;fill:#262626;white-space:pre" xml:space="preserve">bps</text>
<text transform="translate(27.00,663.07) rotate(-90) scale(0.3635,0.3820)" style="font-family:'Liberation Serif';font-size:100px;fill:#262626;white-space:pre" xml:space="preserve">)</text>
<text transform="translate(27.00,798.31) rotate(-90) scale(0.4041,0.3400)" style="font-family:'Liberation Serif';font-size:100px;fill:#262626;white-space:pre" xml:space="preserve">rate</text>
<text transform="translate(27.00,859.29) rotate(-90) scale(0.3451,0.3400)" style="font-family:'Liberation Serif';font-size:100px;fill:#262626;white-space:pre" xml:space="preserve">key</text>
<text transform="translate(27.00,969.20) rotate(-90) scale(0.3569,0.3650)" style="font-family:'Liberation Serif';font-size:100px;fill:#262626;white-space:pre" xml:space="preserve">S</text>
<text transform="translate(27.00,949.35) rotate(-90) scale(0.3569,0.3400)" style="font-family:'Liberation Serif';font-size:100px;fill:#262626;white-space:pre" xml:space="preserve">ecure</text>
<text transform="translate(43.40,608.06) scale(0.3191,0.3176)" style="font-family:'Liberation Serif';font-size:100px;fill:#262626;white-space:pre" xml:space="preserve">300</text>
<text transform="translate(43.73,746.37) scale(0.3169,0.3132)" style="font-family:'Liberation Serif';font-size:100px;fill:#262626;white-space:pre" xml:space="preserve">200</text>
<text transform="translate(43.94,885.15) scale(0.3182,0.3235)" style="font-family:'Liberation Serif';font-size:100px;fill:#262626;white-space:pre" xml:space="preserve">100</text>
<text transform="translate(74.77,1023.56) scale(0.3333,0.3221)" style="font-family:'Liberation Serif';font-size:100px;fill:#262626;white-space:pre" xml:space="preserve">0</text>
<text transform="translate(93.17,1052.77) scale(0.3333,0.3132)" style="font-family:'Liberation Serif';font-size:100px;fill:#262626;white-space:pre" xml:space="preserve">0</text>
<text transform="translate(173.98,1052.77) scale(0.3241,0.3132)" style="font-family:'Liberation Serif';font-size:100px;fill:#262626;white-space:pre" xml:space="preserve">100</text>
<text transform="translate(271.05,1052.77) scale(0.3366,0.3132)" style="font-family:'Liberation Serif';font-size:100px;fill:#262626;white-space:pre" xml:space="preserve">200</text>
<text transform="translate(368.87,1052.77) scale(0.3262,0.3132)" style="font-family:'Liberation Serif';font-size:100px;fill:#262626;white-space:pre" xml:space="preserve">300</text>
<text transform="translate(467.15,1052.77) scale(0.3229,0.3132)" style="font-family:'Liberation Serif';font-size:100px;fill:#262626;white-space:pre" xml:space="preserve">400</text>
<text transform="translate(563.94,1052.77) scale(0.3271,0.3132)" style="font-family:'Liberation Serif';font-size:100px;fill:#262626;white-space:pre" xml:space="preserve">500</text>
<text transform="translate(310.25,1094.40) scale(0.3762,0.3650)" style="font-family:'Liberation Serif';font-size:100px;fill:#262626;white-space:pre" xml:space="preserve">T</text>
<text transform="translate(331.90,1094.40) scale(0.3762,0.3400)" style="font-family:'Liberation Serif';font-size:100px;fill:#262626;white-space:pre" xml:space="preserve">ime</text>
<text transform="translate(400.58,1094.40) scale(0.3546,0.3820)" style="font-family:'Liberation Serif';font-size:100px;fill:#262626;white-space:pre" xml:space="preserve">(</text>
<text transform="translate(412.39,1094.40) scale(0.3546,0.3400)" style="font-family:'Liberation Serif';font-size:100px;fill:#262626;white-space:pre" xml:space="preserve">s</text>
<text transform="translate(426.19,1094.40) scale(0.3546,0.3820)" style="font-family:'Liberation Serif';font-size:100px;fill:#262626;white-space:pre" xml:space="preserve">)</text>
<text transform="translate(487.88,235.87) scale(0.2081,0.1838)" style="font-family:'Liberation Sans';font-size:100px;fill:#000;stroke:#000;stroke-width:1.53px;stroke-linejoin:round;white-space:pre" xml:space="preserve">Estimated</text>
<text transform="translate(392.77,456.14) scale(0.2084,0.1957)" style="font-family:'Liberation Sans';font-size:100px;fill:#000;stroke:#000;stroke-width:1.48px;stroke-linejoin:round;white-space:pre" xml:space="preserve">Infinite size exp.</text>
<text transform="translate(246.30,388.82) scale(0.2107,0.2065)" style="font-family:'Liberation Sans';font-size:100px;fill:#000;stroke:#000;stroke-width:1.68px;stroke-linejoin:round;white-space:pre" xml:space="preserve">n</text>
<text transform="translate(258.85,397.93) scale(0.1736,0.1688)" style="font-family:'Liberation Sans';font-size:100px;fill:#000;stroke:#000;stroke-width:2.04px;stroke-linejoin:round;white-space:pre" xml:space="preserve">Z</text>
<text transform="translate(275.89,387.67) scale(0.1867,0.1703)" style="font-family:'Liberation Sans';font-size:100px;fill:#000;stroke:#000;stroke-width:2.52px;stroke-linejoin:round;white-space:pre" xml:space="preserve">=</text>
<text transform="translate(294.28,388.83) scale(0.1845,0.1993)" style="font-family:'Liberation Sans';font-size:100px;fill:#000;stroke:#000;stroke-width:1.82px;stroke-linejoin:round;white-space:pre" xml:space="preserve">10</text>
<text transform="translate(316.76,379.82) scale(0.1559,0.1707)" style="font-family:'Liberation Sans';font-size:100px;fill:#000;stroke:#000;stroke-width:2.14px;stroke-linejoin:round;white-space:pre" xml:space="preserve">4</text>
<text transform="translate(246.30,421.72) scale(0.2107,0.2065)" style="font-family:'Liberation Sans';font-size:100px;fill:#000;stroke:#000;stroke-width:1.68px;stroke-linejoin:round;white-space:pre" xml:space="preserve">n</text>
<text transform="translate(258.85,430.82) scale(0.1736,0.1688)" style="font-family:'Liberation Sans';font-size:100px;fill:#000;stroke:#000;stroke-width:2.04px;stroke-linejoin:round;white-space:pre" xml:space="preserve">Z</text>
<text transform="translate(275.89,420.57) scale(0.1867,0.1703)" style="font-family:'Liberation Sans';font-size:100px;fill:#000;stroke:#000;stroke-width:2.52px;stroke-linejoin:round;white-space:pre" xml:space="preserve">=</text>
<text transform="translate(294.28,421.73) scale(0.1845,0.1993)" style="font-family:'Liberation Sans';font-size:100px;fill:#000;stroke:#000;stroke-width:1.82px;stroke-linejoin:round;white-space:pre" xml:space="preserve">10</text>
<text transform="translate(316.41,412.55) scale(0.1656,0.1707)" style="font-family:'Liberation Sans';font-size:100px;fill:#000;stroke:#000;stroke-width:2.08px;stroke-linejoin:round;white-space:pre" xml:space="preserve">5</text>
<text transform="translate(246.30,454.62) scale(0.2107,0.2065)" style="font-family:'Liberation Sans';font-size:100px;fill:#000;stroke:#000;stroke-width:1.68px;stroke-linejoin:round;white-space:pre" xml:space="preserve">n</text>
<text transform="translate(258.85,463.73) scale(0.1736,0.1688)" style="font-family:'Liberation Sans';font-size:100px;fill:#000;stroke:#000;stroke-width:2.04px;stroke-linejoin:round;white-space:pre" xml:space="preserve">Z</text>
<text transform="translate(275.89,453.47) scale(0.1867,0.1703)" style="font-family:'Liberation Sans';font-size:100px;fill:#000;stroke:#000;stroke-width:2.52px;stroke-linejoin:round;white-space:pre" xml:space="preserve">=</text>
<text transform="translate(294.28,454.63) scale(0.1845,0.1993)" style="font-family:'Liberation Sans';font-size:100px;fill:#000;stroke:#000;stroke-width:1.82px;stroke-linejoin:round;white-space:pre" xml:space="preserve">10</text>
<text transform="translate(316.40,445.46) scale(0.1691,0.1683)" style="font-family:'Liberation Sans';font-size:100px;fill:#000;stroke:#000;stroke-width:2.07px;stroke-linejoin:round;white-space:pre" xml:space="preserve">8</text>
<text transform="translate(394.00,388.82) scale(0.2107,0.2065)" style="font-family:'Liberation Sans';font-size:100px;fill:#000;stroke:#000;stroke-width:1.68px;stroke-linejoin:round;white-space:pre" xml:space="preserve">n</text>
<text transform="translate(406.55,397.93) scale(0.1736,0.1688)" style="font-family:'Liberation Sans';font-size:100px;fill:#000;stroke:#000;stroke-width:2.04px;stroke-linejoin:round;white-space:pre" xml:space="preserve">Z</text>
<text transform="translate(423.59,387.67) scale(0.1867,0.1703)" style="font-family:'Liberation Sans';font-size:100px;fill:#000;stroke:#000;stroke-width:2.52px;stroke-linejoin:round;white-space:pre" xml:space="preserve">=</text>
<text transform="translate(441.98,388.83) scale(0.1845,0.1993)" style="font-family:'Liberation Sans';font-size:100px;fill:#000;stroke:#000;stroke-width:1.82px;stroke-linejoin:round;white-space:pre" xml:space="preserve">10</text>
<text transform="translate(463.91,379.66) scale(0.1728,0.1683)" style="font-family:'Liberation Sans';font-size:100px;fill:#000;stroke:#000;stroke-width:2.05px;stroke-linejoin:round;white-space:pre" xml:space="preserve">6</text>
<text transform="translate(394.00,421.72) scale(0.2107,0.2065)" style="font-family:'Liberation Sans';font-size:100px;fill:#000;stroke:#000;stroke-width:1.68px;stroke-linejoin:round;white-space:pre" xml:space="preserve">n</text>
<text transform="translate(406.55,430.82) scale(0.1736,0.1688)" style="font-family:'Liberation Sans';font-size:100px;fill:#000;stroke:#000;stroke-width:2.04px;stroke-linejoin:round;white-space:pre" xml:space="preserve">Z</text>
<text transform="translate(423.59,420.57) scale(0.1867,0.1703)" style="font-family:'Liberation Sans';font-size:100px;fill:#000;stroke:#000;stroke-width:2.52px;stroke-linejoin:round;white-space:pre" xml:space="preserve">=</text>
<text transform="translate(441.98,421.73) scale(0.1845,0.1993)" style="font-family:'Liberation Sans';font-size:100px;fill:#000;stroke:#000;stroke-width:1.82px;stroke-linejoin:round;white-space:pre" xml:space="preserve">10</text>
<text transform="translate(463.91,412.72) scale(0.1728,0.1707)" style="font-family:'Liberation Sans';font-size:100px;fill:#000;stroke:#000;stroke-width:2.04px;stroke-linejoin:round;white-space:pre" xml:space="preserve">7</text>
</g>
</svg>
</body></html>
